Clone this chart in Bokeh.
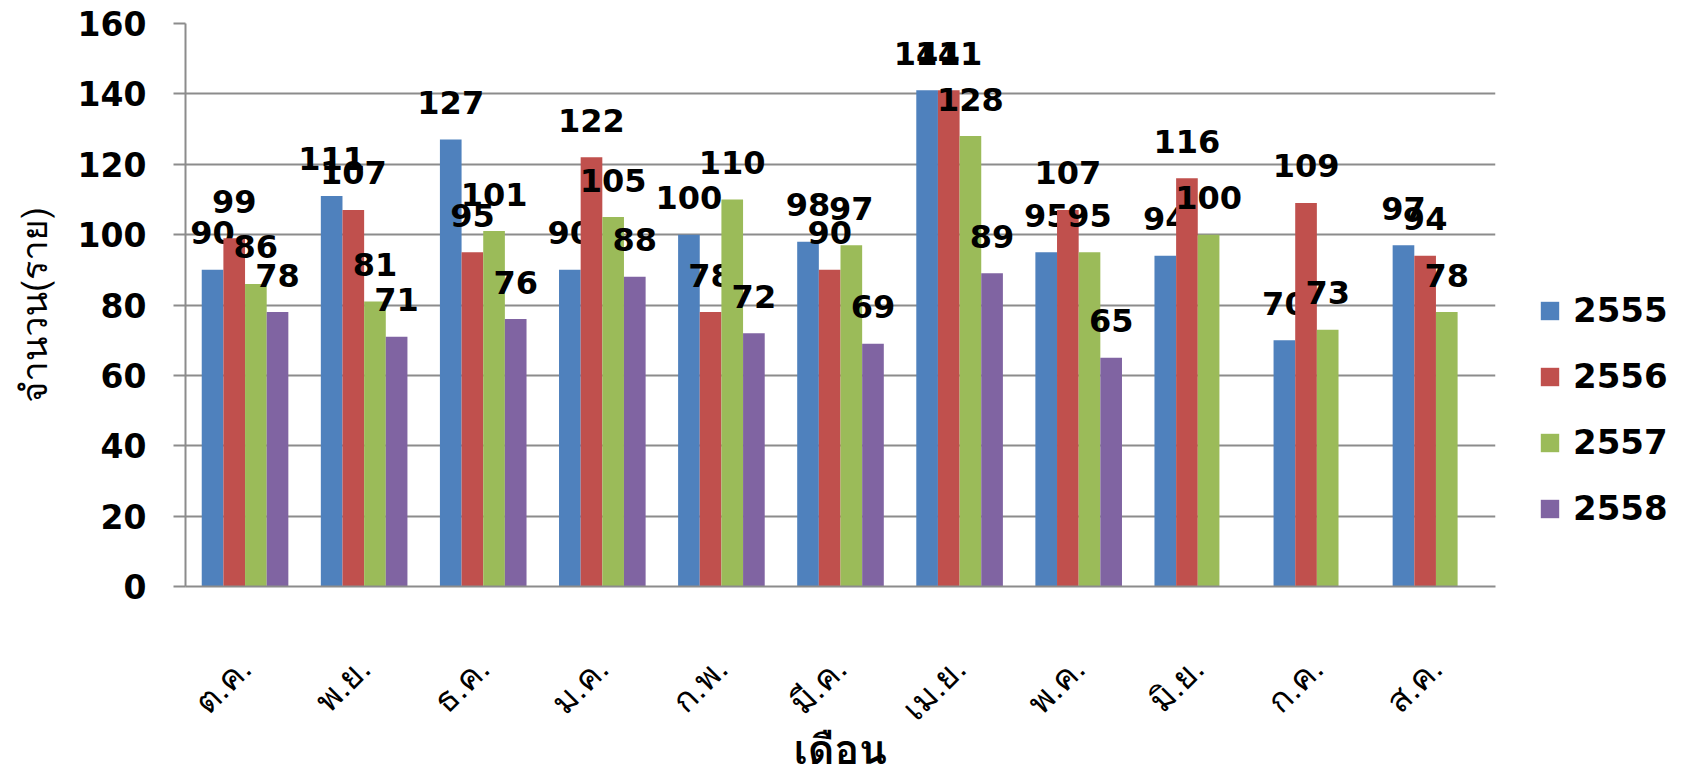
import math
from bokeh.plotting import figure
from bokeh.models import (ColumnDataSource, FactorRange, Range1d, Legend, LegendItem,
                          SingleIntervalTicker)
from bokeh.core.properties import value
from bokeh.transform import dodge
from bokeh.embed import file_html
from bokeh.resources import INLINE

months = ["ต.ค.", "พ.ย.", "ธ.ค.", "ม.ค.", "ก.พ.", "มี.ค.", "เม.ย.", "พ.ค.", "มิ.ย.", "ก.ค.", "ส.ค."]
years = ["2555", "2556", "2557", "2558"]
v2555 = [90, 111, 127, 90, 100, 98, 141, 95, 94, 70, 97]
v2556 = [99, 107, 95, 122, 78, 90, 141, 107, 116, 109, 94]
v2557 = [86, 81, 101, 105, 110, 97, 128, 95, 100, 73, 78]
v2558 = [78, 71, 76, 88, 72, 69, 89, 65, None, None, None]
colors = ["#4F81BD", "#C0504D", "#9BBB59", "#8064A2"]

series = [v2555, v2556, v2557, v2558]

p = figure(x_range=FactorRange(*months, range_padding=0), y_range=Range1d(0, 160),
           frame_width=1310, frame_height=563, output_backend="svg", toolbar_location=None,
           min_border_left=185, min_border_right=0, min_border_top=23, min_border_bottom=0)

bw = 1 / 5.5
offsets = [-1.5 * bw, -0.5 * bw, 0.5 * bw, 1.5 * bw]
FONT = "DejaVu Sans"
THAI = "Loma, Garuda, 'Noto Sans Thai Looped', Tahoma, 'Noto Sans Thai', sans-serif"

renderers = []
for vals, yr, col, off in zip(series, years, colors, offsets):
    xs = [m for m, v in zip(months, vals) if v is not None]
    ys = [v for v in vals if v is not None]
    src = ColumnDataSource(dict(x=xs, top=ys, lab=[str(v) for v in ys]))
    r = p.vbar(x=dodge("x", off, range=p.x_range), top="top", width=bw, source=src,
               fill_color=col, line_color=None)
    renderers.append((yr, r))
    p.text(x=dodge("x", off, range=p.x_range), y="top", text="lab", source=src,
           y_offset=-37, text_align="center", text_baseline="middle",
           text_font_size="32px", text_font_style="bold", text_color="black",
           text_font=value(FONT))

# axes
p.outline_line_color = None
p.xgrid.grid_line_color = None
p.ygrid.grid_line_color = "#8c8c8c"
p.ygrid.grid_line_width = 2
p.yaxis.ticker = SingleIntervalTicker(interval=20)
p.yaxis.minor_tick_line_color = None
p.yaxis.axis_line_color = "#8c8c8c"
p.yaxis.axis_line_width = 2
p.yaxis.major_tick_line_color = "#8c8c8c"
p.yaxis.major_tick_line_width = 2
p.yaxis.major_tick_out = 12
p.yaxis.major_tick_in = 0
p.yaxis.major_label_standoff = 27
p.yaxis.major_label_text_font = FONT
p.yaxis.major_label_text_font_style = "bold"
p.yaxis.major_label_text_font_size = "33px"
p.yaxis.major_label_text_color = "black"
p.yaxis.axis_label = "จำนวน(ราย)"
p.yaxis.axis_label_text_font = THAI
p.yaxis.axis_label_text_font_style = "normal"
p.yaxis.axis_label_text_font_size = "36px"
p.yaxis.axis_label_text_color = "black"
p.yaxis.axis_label_standoff = 12

p.xaxis.axis_line_color = "#8c8c8c"
p.xaxis.axis_line_width = 2
p.xaxis.major_tick_line_color = None
p.xaxis.minor_tick_line_color = None
p.xaxis.major_label_orientation = math.pi / 4
p.xaxis.major_label_standoff = 70
p.xaxis.major_label_text_font = THAI
p.xaxis.major_label_text_font_size = "34px"
p.xaxis.major_label_text_line_height = 0.8
p.xaxis.major_label_text_color = "black"
p.xaxis.axis_label = "เดือน"
p.xaxis.axis_label_text_font = THAI
p.xaxis.axis_label_text_font_style = "bold"
p.xaxis.axis_label_text_font_size = "41px"
p.xaxis.axis_label_text_line_height = 1.0
p.xaxis.axis_label_text_color = "black"
p.xaxis.axis_label_standoff = -38

legend = Legend(items=[LegendItem(label=yr, renderers=[r]) for yr, r in renderers],
                location=(43, 58), orientation="vertical",
                glyph_width=23, glyph_height=23, label_standoff=12, spacing=26,
                padding=0, margin=0, border_line_color=None, background_fill_alpha=0,
                label_text_font=FONT, label_text_font_style="bold",
                label_text_font_size="34px", label_text_color="black",
                label_height=40)
p.add_layout(legend, "right")

open("out.html", "w").write(file_html(p, INLINE))
